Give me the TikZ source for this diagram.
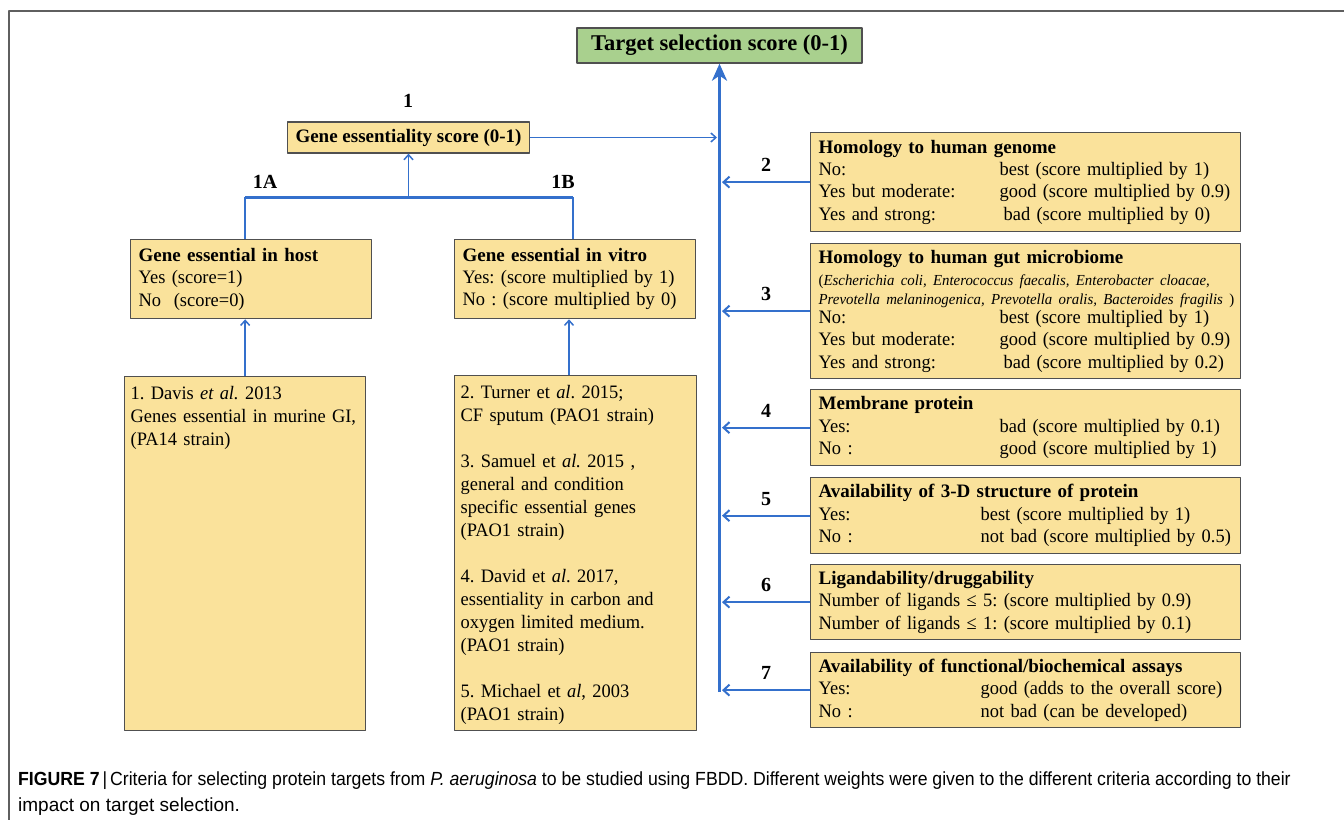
\documentclass[tikz,border=0pt]{standalone}
\usepackage{fontspec}
\setmainfont{Liberation Serif}[FakeStretch=0.97,BoldFeatures={FakeStretch=1.0}]
\newfontfamily\capfont{Liberation Sans}
\usetikzlibrary{arrows.meta}
\definecolor{linkblue}{RGB}{52,112,204}
\definecolor{boxyellow}{RGB}{250,226,155}
\definecolor{boxgreen}{RGB}{169,208,142}
\definecolor{boxgray}{RGB}{80,80,80}
\definecolor{framegray}{RGB}{95,95,95}
\frenchspacing
\begin{document}
\begin{tikzpicture}[x=1pt,y=-1pt,line join=round,
        yellowbox/.style={draw=boxgray,line width=1.3pt,fill=boxyellow,anchor=north west,
            inner xsep=8pt,inner ysep=2pt,align=left,font=\fontsize{19}{22.3}\selectfont},
        greenbox/.style={draw=boxgray,line width=1.3pt,fill=boxgreen,minimum width=285pt,
            minimum height=35pt,font=\bfseries\fontsize{22.5}{26}\selectfont},
        numlabel/.style={text=black,font=\bfseries\fontsize{20}{24}\selectfont},
        thinlink/.style={linkblue,line width=1.5pt},
        thinarrow/.style={thinlink,-{Straight Barb[length=5pt,width=9pt]}},
        sidearrow/.style={linkblue,line width=2pt,-{Straight Barb[length=6pt,width=11pt]}},
        mainarrow/.style={linkblue,line width=3.5pt,-{Stealth[length=17pt,width=15pt,inset=5pt]}}]
    \useasboundingbox (0,0) rectangle (1344,820);
    \draw[framegray,line width=1.6pt] (1344,11) -- (9,11) -- (9,820);

    \node[greenbox] (target) at (719.5,45.5) {Target selection score (0-1)};
    \coordinate (spinebot) at (719.5,692);
    \coordinate (spinel) at (717,0);
    \coordinate (spiner) at (722,0);
    \draw[mainarrow] (spinebot) -- (target.south);

    % criterion 1
    \node[numlabel] (l1) at (408,101) {1};
    \node[yellowbox,anchor=center,minimum width=241pt,minimum height=31pt] (essscore) at (408.5,137.5)
        {\textbf{Gene essentiality score (0-1)}};
    \draw[thinarrow] (essscore.east) -- (essscore.east -| spinel);

    \node[numlabel] (l1a) at (265,182) {1A};
    \node[numlabel] (l1b) at (563,182) {1B};
    \coordinate (barL) at (245,197);
    \coordinate (barR) at (573,197);
    \coordinate (vitroin) at (569,0);

    \node[yellowbox,text width=225pt,minimum height=79pt] (hostbox) at (130,239)
        {\textbf{Gene essential in host}\\ Yes (score=1)\\ No\ \ (score=0)};
    \node[yellowbox,text width=225pt,minimum height=79pt] (vitrobox) at (454,239)
        {\textbf{Gene essential in vitro}\\ Yes: (score multiplied by 1)\\ No : (score multiplied by 0)};

    \draw[thinlink] (hostbox.north -| barL) -- (barL);
    \draw[thinlink] (vitrobox.north -| barR) -- (barR);
    \draw[linkblue,line width=3pt] (barL) -- (barR);
    \draw[thinarrow] (essscore.south |- barL) -- (essscore.south);

    \node[yellowbox,inner xsep=6pt,text width=229pt,minimum height=354pt] (hostref) at (124,376)
        {\parbox[c][346pt][t]{229pt}{\raggedright\fontsize{19}{23}\selectfont\vspace*{6pt}
        1. Davis \textit{et al.} 2013\\
        Genes essential in murine GI,\\
        (PA14 strain)}};
    \node[yellowbox,inner xsep=6pt,text width=230pt,minimum height=355pt] (vitroref) at (454,375)
        {\parbox[c][347pt][t]{230pt}{\raggedright\fontsize{19}{23}\selectfont\vspace*{6pt}
        2. Turner et \textit{al}. 2015;\\
        CF sputum (PAO1 strain)\\[23pt]
        3. Samuel et \textit{al.} 2015 ,\\
        general and condition\\
        specific essential genes\\
        (PAO1 strain)\\[23pt]
        4. David et \textit{al}. 2017,\\
        essentiality in carbon and\\
        oxygen limited medium.\\
        (PAO1 strain)\\[23pt]
        5. Michael et \textit{al}, 2003\\
        (PAO1 strain)}};
    \draw[thinarrow] (hostref.north) -- (hostref.north |- hostbox.south);
    \draw[thinarrow] (vitroref.north -| vitroin) -- (vitrobox.south -| vitroin);

    % criteria 2-7
    \node[yellowbox,text width=414pt,minimum height=99pt] (homgen) at (810,132)
        {\textbf{Homology to human genome}\\
        \mbox{\makebox[181pt][l]{No:}best (score multiplied by 1)}\\
        \mbox{\makebox[181pt][l]{Yes but moderate:}good (score multiplied by 0.9)}\\
        \mbox{\makebox[185pt][l]{Yes and strong:}bad (score multiplied by 0)}};
    \node[yellowbox,text width=414pt,minimum height=135pt] (homgut) at (810,243)
        {\textbf{Homology to human gut microbiome}\\
        \mbox{\fontsize{15.3}{18.5}\selectfont(\textit{Escherichia coli, Enterococcus faecalis, Enterobacter cloacae,}}\\[-3.5pt]
        \mbox{\fontsize{15.3}{18.5}\selectfont\textit{Prevotella melaninogenica, Prevotella oralis, Bacteroides fragilis} )}\\[-3pt]
        \mbox{\makebox[181pt][l]{No:}best (score multiplied by 1)}\\
        \mbox{\makebox[181pt][l]{Yes but moderate:}good (score multiplied by 0.9)}\\
        \mbox{\makebox[185pt][l]{Yes and strong:}bad (score multiplied by 0.2)}};
    \node[yellowbox,text width=414pt,minimum height=76pt] (membrane) at (810,389)
        {\textbf{Membrane protein}\\
        \mbox{\makebox[181pt][l]{Yes:}bad (score multiplied by 0.1)}\\
        \mbox{\makebox[181pt][l]{No :}good (score multiplied by 1)}};
    \node[yellowbox,text width=414pt,minimum height=76pt] (struct) at (810,477)
        {\textbf{Availability of 3-D structure of protein}\\
        \mbox{\makebox[162pt][l]{Yes:}best (score multiplied by 1)}\\
        \mbox{\makebox[162pt][l]{No :}not bad (score multiplied by 0.5)}};
    \node[yellowbox,text width=414pt,minimum height=75pt] (ligand) at (810,564)
        {\textbf{Ligandability/druggability}\\
        \mbox{Number of ligands ≤ 5: (score multiplied by 0.9)}\\
        \mbox{Number of ligands ≤ 1: (score multiplied by 0.1)}};
    \node[yellowbox,text width=414pt,minimum height=75pt] (assay) at (810,652)
        {\textbf{Availability of functional/biochemical assays}\\
        \mbox{\makebox[162pt][l]{Yes:}good (adds to the overall score)}\\
        \mbox{\makebox[162pt][l]{No :}not bad (can be developed)}};

    \draw[sidearrow] (homgen.west) -- node[numlabel,above=6pt] (n2) {2} (homgen.west -| spiner);
    \draw[sidearrow] (homgut.west) -- node[numlabel,above=6pt] (n3) {3} (homgut.west -| spiner);
    \draw[sidearrow] (membrane.west) -- node[numlabel,above=6pt] (n4) {4} (membrane.west -| spiner);
    \draw[sidearrow] (struct.west) -- node[numlabel,above=6pt] (n5) {5} (struct.west -| spiner);
    \draw[sidearrow] (ligand.west) -- node[numlabel,above=6pt] (n6) {6} (ligand.west -| spiner);
    \draw[sidearrow] (assay.west) -- node[numlabel,above=6pt] (n7) {7} (assay.west -| spiner);

    \node[anchor=north west,align=left,inner sep=0pt,font=\capfont\fontsize{19}{26}\selectfont] (caption) at (18,772)
        {\scalebox{0.93}[1]{\textbf{FIGURE 7}\,|\,Criteria for selecting protein targets from \textit{P. aeruginosa} to be studied using FBDD. Different weights were given to the different criteria according to their}\\
        impact on target selection.};
\end{tikzpicture}
\end{document}
